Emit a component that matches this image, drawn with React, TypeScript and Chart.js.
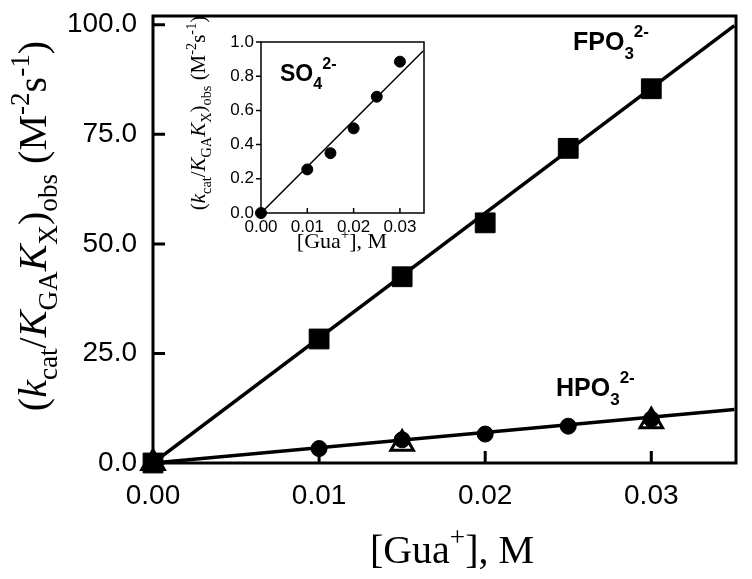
import React, { useEffect, useRef } from 'react';
import { Chart, registerables } from 'chart.js';
Chart.register(...registerables);

// ---- Main chart data ----
const xTicks = [0, 0.01, 0.02, 0.03];
const yTicks = [0, 25, 50, 75, 100];
const conc = [0, 0.01, 0.015, 0.02, 0.025, 0.03];
const fpo3 = [0, 28.3, 42.5, 54.8, 71.8, 85.4];
const hpo3 = [0, 3.3, 5.3, 6.6, 8.4, 10.0];
const triConc = [0, 0.015, 0.03];
const triVals = [0, 4.4, 9.5];
const fitX = [0, 0.035];
const fpo3Fit = [0, 99.8];
const hpo3Fit = [0, 12.2];

// ---- Inset data ----
const insetXTicks = [0, 0.01, 0.02, 0.03];
const insetYTicks = [0, 0.2, 0.4, 0.6, 0.8, 1.0];
const so4 = [0, 0.255, 0.35, 0.495, 0.68, 0.885];
const so4Fit = [0, 0.947];

const SANS = '"Liberation Sans", Arial, Helvetica, sans-serif';
const SERIF = '"Liberation Serif", "Times New Roman", Times, serif';

type Seg = { t: string; it?: boolean; sub?: boolean; sup?: boolean };

function drawRich(
  ctx: CanvasRenderingContext2D,
  segs: Seg[],
  x: number,
  y: number,
  size: number,
  family: string,
  weight: string,
  align: 'center' | 'left',
  rot = 0,
  subScale = 0.68,
  subDy = 0.28,
  supDy = 0.42
) {
  ctx.save();
  ctx.translate(x, y);
  ctx.rotate(rot);
  ctx.textBaseline = 'alphabetic';
  ctx.textAlign = 'left';
  ctx.fillStyle = '#000';
  const fontOf = (s: Seg) => {
    const sz = s.sub || s.sup ? size * subScale : size;
    return `${s.it ? 'italic ' : ''}${weight} ${sz.toFixed(1)}px ${family}`;
  };
  const widths = segs.map((s) => {
    ctx.font = fontOf(s);
    return ctx.measureText(s.t).width;
  });
  const total = widths.reduce((a, b) => a + b, 0);
  let cx = align === 'center' ? -total / 2 : 0;
  segs.forEach((s, i) => {
    ctx.font = fontOf(s);
    const dy = s.sub ? size * subDy : s.sup ? -size * supDy : 0;
    ctx.fillText(s.t, cx, dy);
    cx += widths[i];
  });
  ctx.restore();
}

const yTitle: Seg[] = [
  { t: '(' }, { t: 'k', it: true }, { t: 'cat', sub: true }, { t: '/' },
  { t: 'K', it: true }, { t: 'GA', sub: true }, { t: 'K', it: true }, { t: 'X', sub: true },
  { t: ')' }, { t: 'obs', sub: true }, { t: ' (' }, { t: 'M' }, { t: '-2', sup: true },
  { t: 's' }, { t: '-1', sup: true }, { t: ')' },
];
const xTitle: Seg[] = [{ t: '[Gua' }, { t: '+', sup: true }, { t: '], M' }];

const mainDecor = {
  id: 'mainDecor',
  beforeDatasetsDraw(chart: any) {
    const { ctx, chartArea: a, scales } = chart;
    const x = scales.x, y = scales.y;
    ctx.save();
    ctx.strokeStyle = '#000';
    ctx.lineWidth = 3;
    ctx.strokeRect(a.left, a.top, a.right - a.left, a.bottom - a.top);
    ctx.beginPath();
    yTicks.forEach((v) => {
      const py = y.getPixelForValue(v);
      ctx.moveTo(a.left, py);
      ctx.lineTo(a.left + 12, py);
    });
    xTicks.forEach((v) => {
      const px = x.getPixelForValue(v);
      ctx.moveTo(px, a.bottom);
      ctx.lineTo(px, a.bottom - 12);
    });
    ctx.stroke();
    ctx.restore();
  },
  afterDraw(chart: any) {
    const { ctx } = chart;
    drawRich(ctx, yTitle, 46, 226, 40, SERIF, 'normal', 'center', -Math.PI / 2);
    drawRich(ctx, xTitle, 452, 563, 40, SERIF, 'normal', 'center');
    drawRich(ctx, [{ t: 'FPO' }, { t: '3', sub: true }, { t: '2-', sup: true }], 573, 50, 25, SANS, 'bold', 'left', 0, 0.68, 0.36, 0.52);
    drawRich(ctx, [{ t: 'HPO' }, { t: '3', sub: true }, { t: '2-', sup: true }], 556, 396, 25, SANS, 'bold', 'left', 0, 0.68, 0.36, 0.52);
  },
};

const insetDecor = {
  id: 'insetDecor',
  beforeDatasetsDraw(chart: any) {
    const { ctx, chartArea: a, scales } = chart;
    const x = scales.x, y = scales.y;
    ctx.save();
    ctx.strokeStyle = '#000';
    ctx.lineWidth = 1.5;
    ctx.strokeRect(a.left, a.top, a.right - a.left, a.bottom - a.top);
    ctx.beginPath();
    insetYTicks.forEach((v) => {
      const py = y.getPixelForValue(v);
      ctx.moveTo(a.left, py);
      ctx.lineTo(a.left - 5, py);
    });
    insetXTicks.forEach((v) => {
      const px = x.getPixelForValue(v);
      ctx.moveTo(px, a.bottom);
      ctx.lineTo(px, a.bottom - 5);
    });
    ctx.stroke();
    ctx.restore();
  },
  afterDraw(chart: any) {
    const { ctx } = chart;
    drawRich(ctx, yTitle, 25, 108, 21, SERIF, 'normal', 'center', -Math.PI / 2);
    drawRich(ctx, xTitle, 162, 243, 22, SERIF, 'normal', 'center');
    drawRich(ctx, [{ t: 'SO' }, { t: '4', sub: true }, { t: '2-', sup: true }], 100, 76, 23, SANS, 'bold', 'left', 0, 0.7, 0.36, 0.52);
  },
};

const pts = (xs: number[], ys: number[]) => xs.map((v, i) => ({ x: v, y: ys[i] }));

function MainChart() {
  const ref = useRef<HTMLCanvasElement>(null);
  useEffect(() => {
    if (!ref.current) return;
    const chart = new Chart(ref.current, {
      type: 'scatter',
      data: {
        datasets: [
          {
            label: 'FPO3',
            data: pts(conc, fpo3),
            pointStyle: 'rect',
            pointRadius: 14,
            pointBackgroundColor: '#000',
            pointBorderColor: '#000',
            pointBorderWidth: 1,
            clip: false,
          } as any,
          {
            label: 'HPO3',
            data: pts(conc, hpo3),
            pointStyle: 'circle',
            pointRadius: 8,
            pointBackgroundColor: '#000',
            pointBorderColor: '#000',
            pointBorderWidth: 1,
            clip: false,
          },
          {
            label: 'tri',
            data: pts(triConc, triVals),
            pointStyle: 'triangle',
            pointRadius: 13,
            pointBackgroundColor: '#fff',
            pointBorderColor: '#000',
            pointBorderWidth: 3,
            clip: false,
          },
          {
            label: 'fitF',
            data: pts(fitX, fpo3Fit),
            showLine: true,
            pointRadius: 0,
            borderColor: '#000',
            borderWidth: 3.5,
          },
          {
            label: 'fitH',
            data: pts(fitX, hpo3Fit),
            showLine: true,
            pointRadius: 0,
            borderColor: '#000',
            borderWidth: 3.5,
          },
        ],
      },
      options: {
        animation: false,
        responsive: false,
        devicePixelRatio: 1,
        layout: { padding: { top: 3, right: 1.5, left: 0, bottom: 0 } },
        plugins: { legend: { display: false }, tooltip: { enabled: false } },
        scales: {
          x: {
            type: 'linear',
            min: 0,
            max: 0.0351,
            afterBuildTicks: (s: any) => {
              s.ticks = xTicks.map((v) => ({ value: v }));
            },
            afterFit: (s: any) => {
              s.height = 116;
              s.paddingLeft = 0;
              s.paddingRight = 0;
            },
            ticks: {
              callback: (v: any) => Number(v).toFixed(2),
              font: { family: SANS, size: 28 },
              color: '#000',
              padding: 16,
              maxRotation: 0,
              autoSkip: false,
            },
            grid: { display: false, drawTicks: false },
            border: { display: false },
          },
          y: {
            type: 'linear',
            min: 0,
            max: 102,
            afterBuildTicks: (s: any) => {
              s.ticks = yTicks.map((v) => ({ value: v }));
            },
            afterFit: (s: any) => {
              s.width = 153;
              s.paddingTop = 0;
              s.paddingBottom = 0;
            },
            ticks: {
              callback: (v: any) => Number(v).toFixed(1),
              font: { family: SANS, size: 28 },
              color: '#000',
              padding: 16,
              autoSkip: false,
            },
            grid: { display: false, drawTicks: false },
            border: { display: false },
          },
        },
      },
      plugins: [mainDecor],
    });
    return () => chart.destroy();
  }, []);
  return <canvas ref={ref} width={752} height={579} style={{ position: 'absolute', left: 0, top: 0, width: 752, height: 579 }} />;
}

function InsetChart() {
  const ref = useRef<HTMLCanvasElement>(null);
  useEffect(() => {
    if (!ref.current) return;
    const chart = new Chart(ref.current, {
      type: 'scatter',
      data: {
        datasets: [
          {
            label: 'SO4',
            data: pts(conc, so4),
            pointStyle: 'circle',
            pointRadius: 5.5,
            pointBackgroundColor: '#000',
            pointBorderColor: '#000',
            pointBorderWidth: 1,
            clip: false,
          } as any,
          {
            label: 'fitS',
            data: pts(fitX, so4Fit),
            showLine: true,
            pointRadius: 0,
            borderColor: '#000',
            borderWidth: 1.5,
          },
        ],
      },
      options: {
        animation: false,
        responsive: false,
        devicePixelRatio: 1,
        layout: { padding: { top: 37, right: 11, left: 0, bottom: 0 } },
        plugins: { legend: { display: false }, tooltip: { enabled: false } },
        scales: {
          x: {
            type: 'linear',
            min: 0,
            max: 0.0352,
            afterBuildTicks: (s: any) => {
              s.ticks = insetXTicks.map((v) => ({ value: v }));
            },
            afterFit: (s: any) => {
              s.height = 47;
              s.paddingLeft = 0;
              s.paddingRight = 0;
            },
            ticks: {
              callback: (v: any) => Number(v).toFixed(2),
              font: { family: SANS, size: 17 },
              color: '#000',
              padding: 4,
              maxRotation: 0,
              autoSkip: false,
            },
            grid: { display: false, drawTicks: false },
            border: { display: false },
          },
          y: {
            type: 'linear',
            min: 0,
            max: 1.0,
            afterBuildTicks: (s: any) => {
              s.ticks = insetYTicks.map((v) => ({ value: v }));
            },
            afterFit: (s: any) => {
              s.width = 81;
              s.paddingTop = 0;
              s.paddingBottom = 0;
            },
            ticks: {
              callback: (v: any) => Number(v).toFixed(1),
              font: { family: SANS, size: 17 },
              color: '#000',
              padding: 7,
              autoSkip: false,
            },
            grid: { display: false, drawTicks: false },
            border: { display: false },
          },
        },
      },
      plugins: [insetDecor],
    });
    return () => chart.destroy();
  }, []);
  return <canvas ref={ref} width={255} height={255} style={{ position: 'absolute', left: 180, top: 5, width: 255, height: 255 }} />;
}

export default function App() {
  return (
    <div style={{ position: 'fixed', left: 0, top: 0, width: 752, height: 579, background: '#fff', overflow: 'hidden' }}>
      <MainChart />
      <InsetChart />
    </div>
  );
}
